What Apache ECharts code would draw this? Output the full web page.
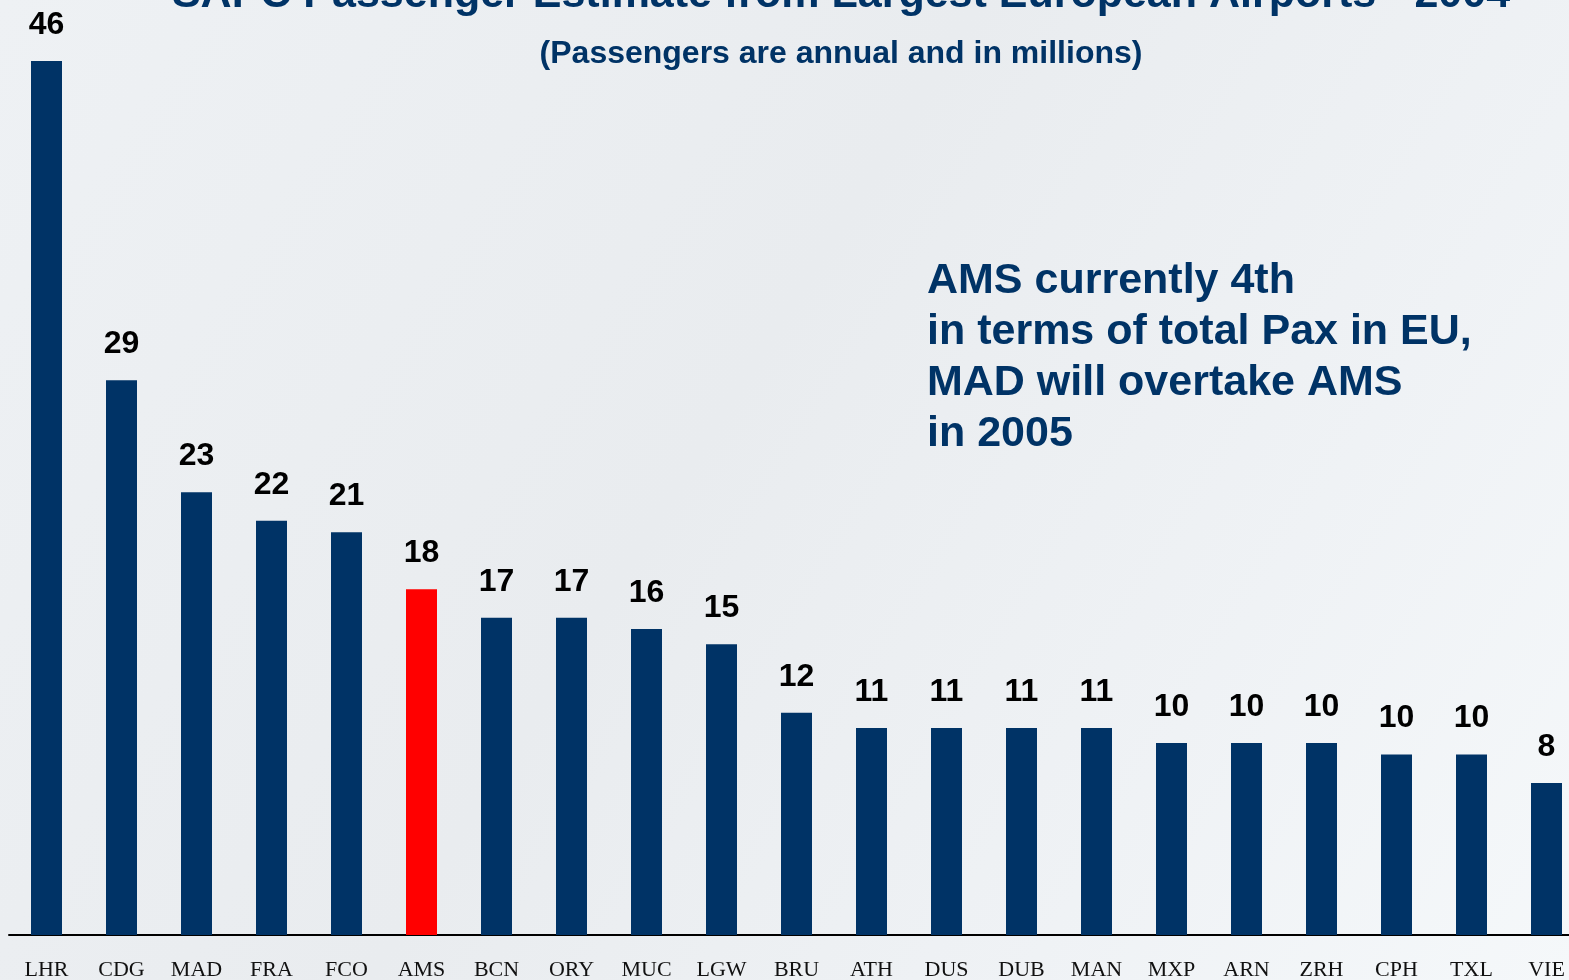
<!DOCTYPE html>
<html>
<head>
<meta charset="utf-8">
<script src="https://cdn.jsdelivr.net/npm/echarts@6/dist/echarts.min.js"></script>
<style>
html,body{margin:0;padding:0;width:1569px;height:980px;overflow:hidden;}
#main{width:1569px;height:980px;}
</style>
</head>
<body>
<div id="main"></div>
<script>
var airports = ['LHR','CDG','MAD','FRA','FCO','AMS','BCN','ORY','MUC','LGW','BRU','ATH','DUS','DUB','MAN','MXP','ARN','ZRH','CPH','TXL','VIE'];
var passengers = [46.0, 29.2, 23.3, 21.8, 21.2, 18.2, 16.7, 16.7, 16.1, 15.3, 11.7, 10.9, 10.9, 10.9, 10.9, 10.1, 10.1, 10.1, 9.5, 9.5, 8.0];
var shownLabels = ['46','29','23','22','21','18','17','17','16','15','12','11','11','11','11','10','10','10','10','10','8'];
var highlight = 'AMS';
var titleText = 'SAPC Passenger Estimate from Largest European Airports - 2004';
var subtitleText = '(Passengers are annual and in millions)';
var noteLines = ['AMS currently 4th', 'in terms of total Pax in EU,', 'MAD will overtake AMS', 'in 2005'];

var NAVY = '#003366';
var chart = echarts.init(document.getElementById('main'));
var option = {
  backgroundColor: {
    type: 'linear', x: 0, y: 0, x2: 1, y2: 1,
    colorStops: [
      {offset: 0, color: '#eef1f4'},
      {offset: 0.45, color: '#e9ecef'},
      {offset: 0.75, color: '#eff2f5'},
      {offset: 1, color: '#f5f8fa'}
    ]
  },
  animation: false,
  grid: {left: 9, width: 1575, top: 61, bottom: 45, containLabel: false, outerBoundsMode: 'none'},
  xAxis: {
    type: 'category',
    data: airports,
    axisLine: {show: true, lineStyle: {color: '#000', width: 2}},
    axisTick: {show: false},
    axisLabel: {
      interval: 0, margin: 24,
      fontFamily: '"Liberation Serif", "Times New Roman", serif',
      fontSize: 22, color: '#111'
    }
  },
  yAxis: {
    type: 'value', min: 0, max: 46,
    show: false,
    splitLine: {show: false}
  },
  series: [{
    type: 'bar',
    barWidth: 31,
    data: passengers.map(function (v, i) {
      return {value: v, itemStyle: {color: airports[i] === highlight ? '#ff0000' : NAVY}};
    }),
    label: {
      show: true, position: 'top', distance: 20,
      formatter: function (p) { return shownLabels[p.dataIndex]; },
      fontFamily: '"Liberation Sans", Arial, sans-serif',
      fontWeight: 'bold', fontSize: 32, color: '#000'
    }
  }],
  graphic: [
    {
      type: 'text', x: 841, y: -26,
      style: {
        text: titleText, fill: NAVY, align: 'center',
        font: 'bold 43px "Liberation Sans", Arial, sans-serif'
      }
    },
    {
      type: 'text', x: 841, y: 54,
      style: {
        text: subtitleText, fill: NAVY, align: 'center', verticalAlign: 'middle',
        font: 'bold 32px "Liberation Sans", Arial, sans-serif'
      }
    },
    {
      type: 'text', x: 927, y: 256,
      style: {
        text: noteLines.join('\n'), fill: NAVY, lineHeight: 51,
        font: 'bold 43px "Liberation Sans", Arial, sans-serif'
      }
    }
  ]
};
chart.setOption(option);
</script>
</body>
</html>
